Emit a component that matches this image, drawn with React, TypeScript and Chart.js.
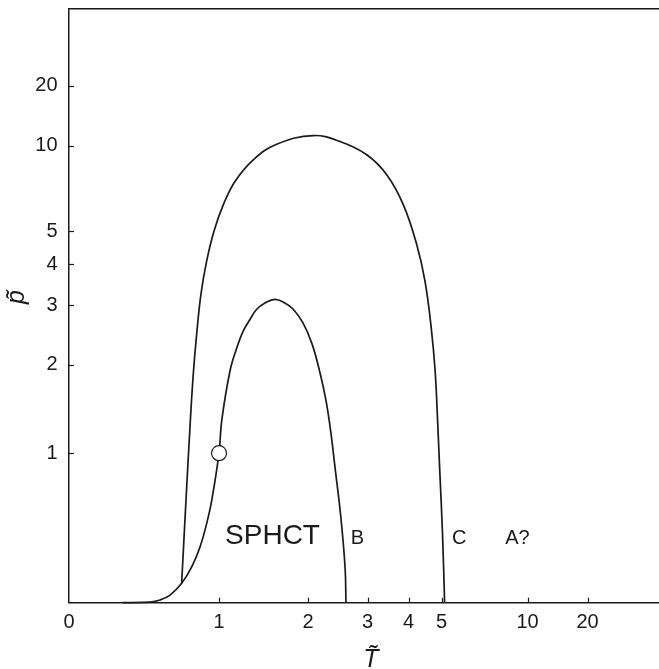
import React, { useEffect, useRef } from 'react';
import { Chart, registerables } from 'chart.js';

Chart.register(...registerables);

// Axis warp of the reference (same on both axes): value -> axis units, piecewise in log10(1+v)
const WARP_VALUES = [0, 1, 2, 3, 4, 5, 10, 20];
const WARP_UNITS = [-150, 0, 89, 148.5, 189.5, 222.5, 308.5, 368.5];
const AXIS_MIN = -150;
const AXIS_MAX = 446;

const X_TICKS = [0, 1, 2, 3, 4, 5, 10, 20];
const X_TICK_LABELS = ['0', '1', '2', '3', '4', '5', '10', '20'];
const Y_TICKS = [1, 2, 3, 4, 5, 10, 20];
const Y_TICK_LABELS = ['1', '2', '3', '4', '5', '10', '20'];

// Curve B (inner, SPHCT boundary)
const curveB_T = [0.28, 0.454, 0.523, 0.595, 0.683, 0.763, 0.832, 0.889, 0.934, 1.0, 1.025, 1.103, 1.166, 1.234, 1.303, 1.375, 1.466, 1.581, 1.689, 1.802, 1.932, 2.059, 2.179, 2.273, 2.353, 2.418, 2.516, 2.588, 2.605];
const curveB_p = [0, 0.003, 0.0126, 0.036, 0.094, 0.181, 0.295, 0.443, 0.607, 1.0, 1.321, 1.915, 2.237, 2.531, 2.733, 2.922, 3.048, 3.13, 3.059, 2.927, 2.67, 2.316, 1.889, 1.543, 1.188, 0.875, 0.488, 0.181, 0];

// Curve C (outer)
const curveC_T = [0.683, 0.717, 0.752, 0.776, 0.804, 0.84, 0.889, 0.954, 1.04, 1.151, 1.338, 1.601, 2.078, 2.502, 2.985, 3.441, 3.86, 4.232, 4.477, 4.668, 4.792, 4.872, 4.937, 5.043, 5.133];
const curveC_p = [0.094, 0.607, 1.321, 1.876, 2.48, 3.251, 4.089, 5.008, 6.253, 7.547, 8.959, 10.18, 11.28, 10.51, 9.317, 7.96, 6.253, 4.581, 3.563, 2.588, 1.915, 1.321, 0.875, 0.378, 0];

// Marked point
const markT = [1];
const markP = [1];

// Region labels
const regionText = ['SPHCT', 'B', 'C', 'A?'];
const regionT = [1.056, 2.69, 5.46, 8.4];
const regionP = [0.31, 0.31, 0.31, 0.31];

const X_TITLE = 'T\u0303';
const Y_TITLE = 'p\u0303';

const FONT = "'Liberation Sans', Arial, Helvetica, sans-serif";
const INK = '#1a1a1a';

function warp(v: number): number {
  const u = Math.log10(1 + v);
  const us = WARP_VALUES.map((w) => Math.log10(1 + w));
  let i = 0;
  while (i < us.length - 2 && u > us[i + 1]) i++;
  const t = (u - us[i]) / (us[i + 1] - us[i]);
  return WARP_UNITS[i] + t * (WARP_UNITS[i + 1] - WARP_UNITS[i]);
}

function pts(T: number[], p: number[]) {
  return T.map((t, i) => ({ x: warp(t), y: warp(p[i]) }));
}

const decor = {
  id: 'decor',
  afterDatasetsDraw(chart: any) {
    const ctx = chart.ctx;
    const xs = chart.scales.x;
    const ys = chart.scales.y;
    ctx.save();
    ctx.fillStyle = INK;
    ctx.textAlign = 'left';
    ctx.textBaseline = 'alphabetic';
    regionText.forEach((txt, i) => {
      ctx.font = (i === 0 ? '28px ' : '20px ') + FONT;
      ctx.fillText(txt, xs.getPixelForValue(warp(regionT[i])), ys.getPixelForValue(warp(regionP[i])));
    });
    ctx.restore();
  },
  afterDraw(chart: any) {
    const ctx = chart.ctx;
    const a = chart.chartArea;
    const xs = chart.scales.x;
    const ys = chart.scales.y;
    ctx.save();
    ctx.strokeStyle = INK;
    ctx.lineWidth = 1.5;
    ctx.beginPath();
    ctx.moveTo(a.left, a.top);
    ctx.lineTo(a.right, a.top);
    ctx.stroke();
    ctx.lineWidth = 1.2;
    xs.ticks.forEach((t: any) => {
      if (t.value <= xs.min) return;
      const px = Math.round(xs.getPixelForValue(t.value)) + 0.5;
      ctx.beginPath();
      ctx.moveTo(px, a.bottom);
      ctx.lineTo(px, a.bottom - 5);
      ctx.stroke();
    });
    ys.ticks.forEach((t: any) => {
      const py = Math.round(ys.getPixelForValue(t.value)) + 0.5;
      ctx.beginPath();
      ctx.moveTo(a.left, py);
      ctx.lineTo(a.left + 5, py);
      ctx.stroke();
    });
    // axis titles
    ctx.fillStyle = INK;
    ctx.font = 'italic 25px ' + FONT;
    ctx.textAlign = 'center';
    ctx.textBaseline = 'alphabetic';
    ctx.fillText(X_TITLE, 371, 667);
    ctx.translate(24, 297);
    ctx.rotate(-Math.PI / 2);
    ctx.fillText(Y_TITLE, 0, 0);
    ctx.restore();
  },
};

export default function App() {
  const ref = useRef<HTMLCanvasElement | null>(null);

  useEffect(() => {
    if (!ref.current) return;
    const zeroPad = (s: any) => {
      s.paddingTop = 0;
      s.paddingBottom = 0;
      s.paddingLeft = 0;
      s.paddingRight = 0;
    };
    const curveStyle = {
      showLine: true,
      borderColor: INK,
      borderWidth: 1.7,
      pointRadius: 0,
      tension: 0.4,
      fill: false,
      clip: false,
    };
    const chart = new Chart(ref.current, {
      type: 'scatter',
      data: {
        datasets: [
          {
            data: pts(markT, markP),
            showLine: false,
            pointRadius: 7.5,
            pointBackgroundColor: '#ffffff',
            pointBorderColor: INK,
            pointBorderWidth: 1.2,
            order: -1,
          },
          { data: pts(curveB_T, curveB_p), ...curveStyle },
          { data: pts(curveC_T, curveC_p), ...curveStyle },
        ],
      } as any,
      options: {
        responsive: false,
        maintainAspectRatio: false,
        devicePixelRatio: 1,
        animation: false,
        layout: { padding: { top: 6.7, right: 35, left: 0, bottom: 0 } },
        plugins: { legend: { display: false }, tooltip: { enabled: false } },
        scales: {
          x: {
            type: 'linear',
            min: AXIS_MIN,
            max: AXIS_MAX,
            grid: { display: false, drawTicks: false },
            border: { display: true, color: INK, width: 1.5 },
            afterBuildTicks: (s: any) => {
              s.ticks = X_TICKS.map((v) => ({ value: warp(v) }));
            },
            afterFit: (s: any) => {
              s.height = 66.3;
              zeroPad(s);
            },
            ticks: {
              autoSkip: false,
              maxRotation: 0,
              minRotation: 0,
              padding: 7.3,
              color: INK,
              font: { family: FONT, size: 20 },
              callback: (_v: any, i: number) => X_TICK_LABELS[i],
            },
          },
          y: {
            type: 'linear',
            min: AXIS_MIN,
            max: AXIS_MAX,
            grid: { display: false, drawTicks: false },
            border: { display: true, color: INK, width: 1.5 },
            afterBuildTicks: (s: any) => {
              s.ticks = Y_TICKS.map((v) => ({ value: warp(v) }));
            },
            afterFit: (s: any) => {
              s.width = 69;
              zeroPad(s);
            },
            ticks: {
              autoSkip: false,
              padding: 11.5,
              color: INK,
              font: { family: FONT, size: 20 },
              callback: (_v: any, i: number) => Y_TICK_LABELS[i],
            },
          },
        },
      } as any,
      plugins: [decor],
    });
    return () => chart.destroy();
  }, []);

  return (
    <div style={{ position: 'absolute', left: 0, top: 0, width: 659, height: 669, overflow: 'hidden', background: '#fff' }}>
      <canvas ref={ref} width={700} height={669} style={{ display: 'block' }} />
    </div>
  );
}
